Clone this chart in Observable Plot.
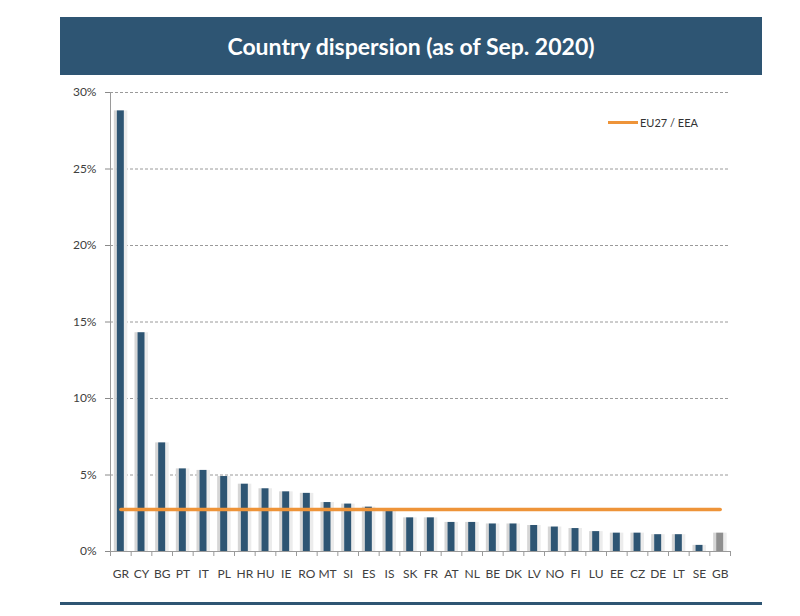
<!DOCTYPE html>
<html>
<head>
<meta charset="utf-8">
<script src="https://cdn.jsdelivr.net/npm/d3@7"></script>
<script src="https://cdn.jsdelivr.net/npm/@observablehq/plot@0.6"></script>
<style>
  html, body { margin: 0; padding: 0; background: #fff; }
  body { width: 800px; height: 616px; position: relative; overflow: hidden; font-family: Lato, "Open Sans", sans-serif; }
  #header { position: absolute; left: 60px; top: 17px; width: 702px; height: 58px; background: #2e5573;
            color: #fff; font: bold 23px Lato, sans-serif; display: flex; align-items: center; justify-content: center; }
  #chart { position: absolute; left: 0; top: 80px; }
  #legend { position: absolute; left: 608px; top: 116px; display: flex; align-items: center; font: 11px Lato, sans-serif; color: #333; }
  #legend .swatch { width: 30px; height: 3px; background: #ee9439; margin-right: 2px; }
  #footer { position: absolute; left: 60px; top: 602px; width: 702px; height: 3px; background: #2e5573; }
</style>
</head>
<body>
<div id="header">Country dispersion (as of Sep. 2020)</div>
<div id="chart"></div>
<div id="legend"><div class="swatch"></div><span>EU27 / EEA</span></div>
<div id="footer"></div>
<script>
// Countries, ordered as shown
const countryList = ["GR","CY","BG","PT","IT","PL","HR","HU","IE","RO","MT","SI","ES","IS","SK","FR","AT","NL","BE","DK","LV","NO","FI","LU","EE","CZ","DE","LT","SE","GB"];
// Share per country, percent
const values = [28.8, 14.3, 7.1, 5.4, 5.3, 4.9, 4.4, 4.1, 3.9, 3.8, 3.2, 3.1, 2.9, 2.7, 2.2, 2.2, 1.9, 1.9, 1.8, 1.8, 1.7, 1.6, 1.5, 1.3, 1.2, 1.2, 1.1, 1.1, 0.4, 1.2];
// EU27 / EEA average, percent
const euAverage = 2.75;
const yTicks = [0, 5, 10, 15, 20, 25, 30];

const data = countryList.map((c, i) => ({country: c, value: values[i], uk: c === "GB"}));

const W = 800, H = 520, mL = 110, mR = 70, mT = 12, mB = 49;
const bw = (W - mL - mR) / countryList.length;

const chart = Plot.plot({
  width: W, height: H,
  marginLeft: mL, marginRight: mR, marginTop: mT, marginBottom: mB,
  style: {fontFamily: "Lato, 'Open Sans', sans-serif", fontSize: "12px", color: "#404040", background: "transparent"},
  x: {domain: countryList, padding: 0, round: false, label: null},
  y: {domain: [0, 30], ticks: yTicks, tickFormat: d => d + "%", label: null},
  marks: [
    Plot.gridY(yTicks.filter(t => t > 0), {stroke: "#9a9a9a", strokeOpacity: 1, strokeDasharray: "3,2"}),
    // soft shadows beside each bar
    Plot.barY(data, {x: "country", y: "value", fill: "#d6d6d6", insetLeft: bw / 2 - 6.5, insetRight: bw / 2 + 3.5}),
    Plot.barY(data, {x: "country", y: "value", fill: "#ececec", insetLeft: bw / 2 + 3, insetRight: bw / 2 - 7}),
    Plot.barY(data, {x: "country", y: "value", fill: d => d.uk ? "#8f8f8f" : "#2e5573",
                     insetLeft: bw / 2 - 3.5, insetRight: bw / 2 - 3.5}),
    Plot.lineY(data, {x: "country", y: () => euAverage, stroke: "#ee9439", strokeWidth: 3.5}),
    // y axis
    Plot.axisY({ticks: yTicks, tickFormat: d => d + "%", tickSize: 5, tickPadding: 9, stroke: "#8a8a8a", fill: "#404040"}),
    Plot.ruleX(["GR"], {x: d => d, y1: 0, y2: 30, dx: -bw / 2, stroke: "#9a9a9a"}),
    // x axis baseline, ticks at category boundaries, labels
    Plot.ruleY([0], {stroke: "#9a9a9a"}),
    Plot.axisX({tickSize: 5, text: null, dx: -bw / 2, stroke: "#9a9a9a"}),
    Plot.axisX({ticks: ["GB"], tickSize: 5, text: null, dx: bw / 2, stroke: "#9a9a9a"}),
    Plot.axisX({tickSize: 0, tickPadding: 18, fill: "#404040"})
  ]
});
document.getElementById("chart").appendChild(chart);
</script>
</body>
</html>
